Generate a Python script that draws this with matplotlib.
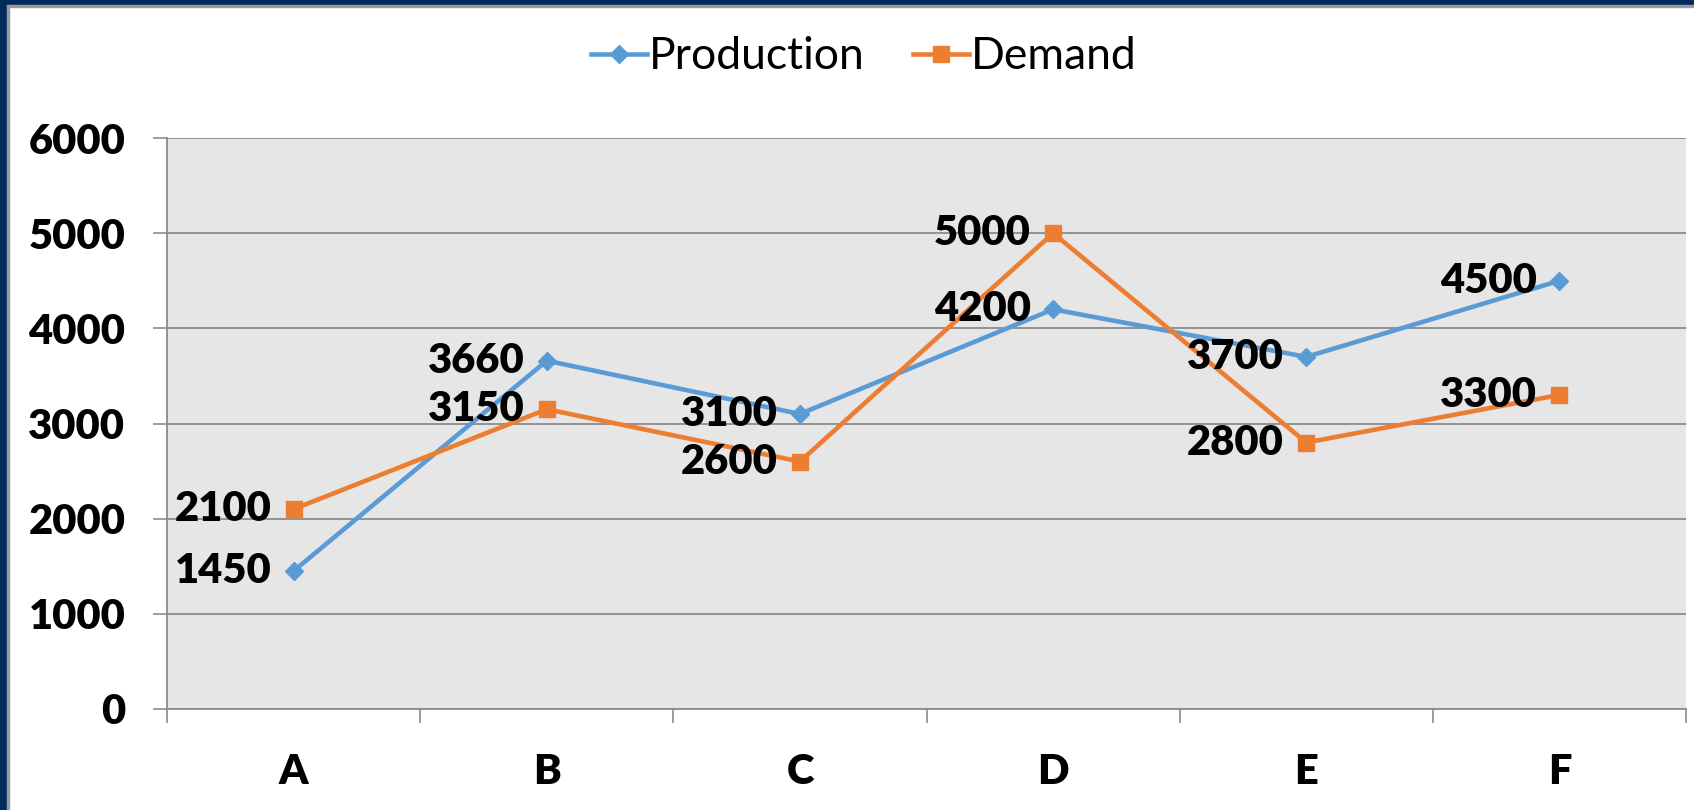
import numpy as np
import matplotlib.pyplot as plt
from matplotlib.patches import Rectangle

# ---- data ------------------------------------------------------------------
categories = ['A', 'B', 'C', 'D', 'E', 'F']
production = [1450, 3660, 3100, 4200, 3700, 4500]
demand = [2100, 3150, 2600, 5000, 2800, 3300]
y_ticks = [0, 1000, 2000, 3000, 4000, 5000, 6000]

blue = '#5B9BD5'
orange = '#ED7D31'
font = ['Lato', 'DejaVu Sans']
lab_size = 30
lab_weight = 'heavy'

plt.rcParams['font.family'] = font

fig = plt.figure(figsize=(16.94, 8.10), dpi=100)
ax = fig.add_axes([0.0986, 0.1247, 0.8967, 0.7049])
ax.set_facecolor('#E6E6E6')

x = np.arange(len(categories))
ax.plot(x, production, color=blue, lw=3.3, marker='D', ms=9.5,
        label='Production', zorder=3)
ax.plot(x, demand, color=orange, lw=3.3, marker='s', ms=11,
        label='Demand', zorder=3)

# data labels sit to the left of each point
for xi, p, d in zip(x, production, demand):
    for v in (p, d):
        ax.annotate(f'{v}', (xi, v), xytext=(-16, 0),
                    textcoords='offset points', ha='right', va='center',
                    fontsize=lab_size, fontweight=lab_weight, color='black',
                    zorder=4)

ax.set_xlim(-0.5, len(categories) - 0.5)
ax.set_ylim(0, 6000)
ax.set_yticks(y_ticks)
ax.set_yticklabels([str(t) for t in y_ticks], fontsize=lab_size,
                   fontweight=lab_weight)
ax.tick_params(axis='y', length=10, width=1.2, color='#8C8C8C', pad=20)

# category boundaries as major ticks, names as minor ticks in the middle
ax.set_xticks(np.arange(-0.5, len(categories)))
ax.set_xticklabels([])
ax.set_xticks(x, minor=True)
ax.set_xticklabels(categories, minor=True, fontsize=lab_size,
                   fontweight=lab_weight)
ax.tick_params(axis='x', which='major', length=10, width=1.2, color='#8C8C8C')
ax.tick_params(axis='x', which='minor', length=0, pad=32)

ax.yaxis.grid(True, color='#8C8C8C', lw=1.3)
ax.set_axisbelow(True)
for s in ('top', 'right'):
    ax.spines[s].set_visible(False)
for s in ('left', 'bottom'):
    ax.spines[s].set_color('#8C8C8C')
    ax.spines[s].set_linewidth(1.3)

fig.legend(loc='center', bbox_to_anchor=(0.51, 0.93), ncol=2, frameon=False,
           fontsize=32, handlelength=1.25, handletextpad=0.05,
           columnspacing=1.1)

# slide frame: navy bars on the left and top edge
navy = '#012A5E'
W, H = 1694, 810
fig.patches.append(Rectangle((0, 0), 7 / W, 1, transform=fig.transFigure,
                             color=navy, zorder=10))
fig.patches.append(Rectangle((0, 1 - 5 / H), 1, 5 / H,
                             transform=fig.transFigure, color=navy, zorder=10))
fig.patches.append(Rectangle((7 / W, 0), 2 / W, 1 - 5 / H,
                             transform=fig.transFigure, color='#9A9A9A',
                             zorder=10))
fig.patches.append(Rectangle((7 / W, 1 - 7 / H), 1, 2 / H,
                             transform=fig.transFigure, color='#9A9A9A',
                             zorder=10))

fig.savefig('out.png', dpi=100)
